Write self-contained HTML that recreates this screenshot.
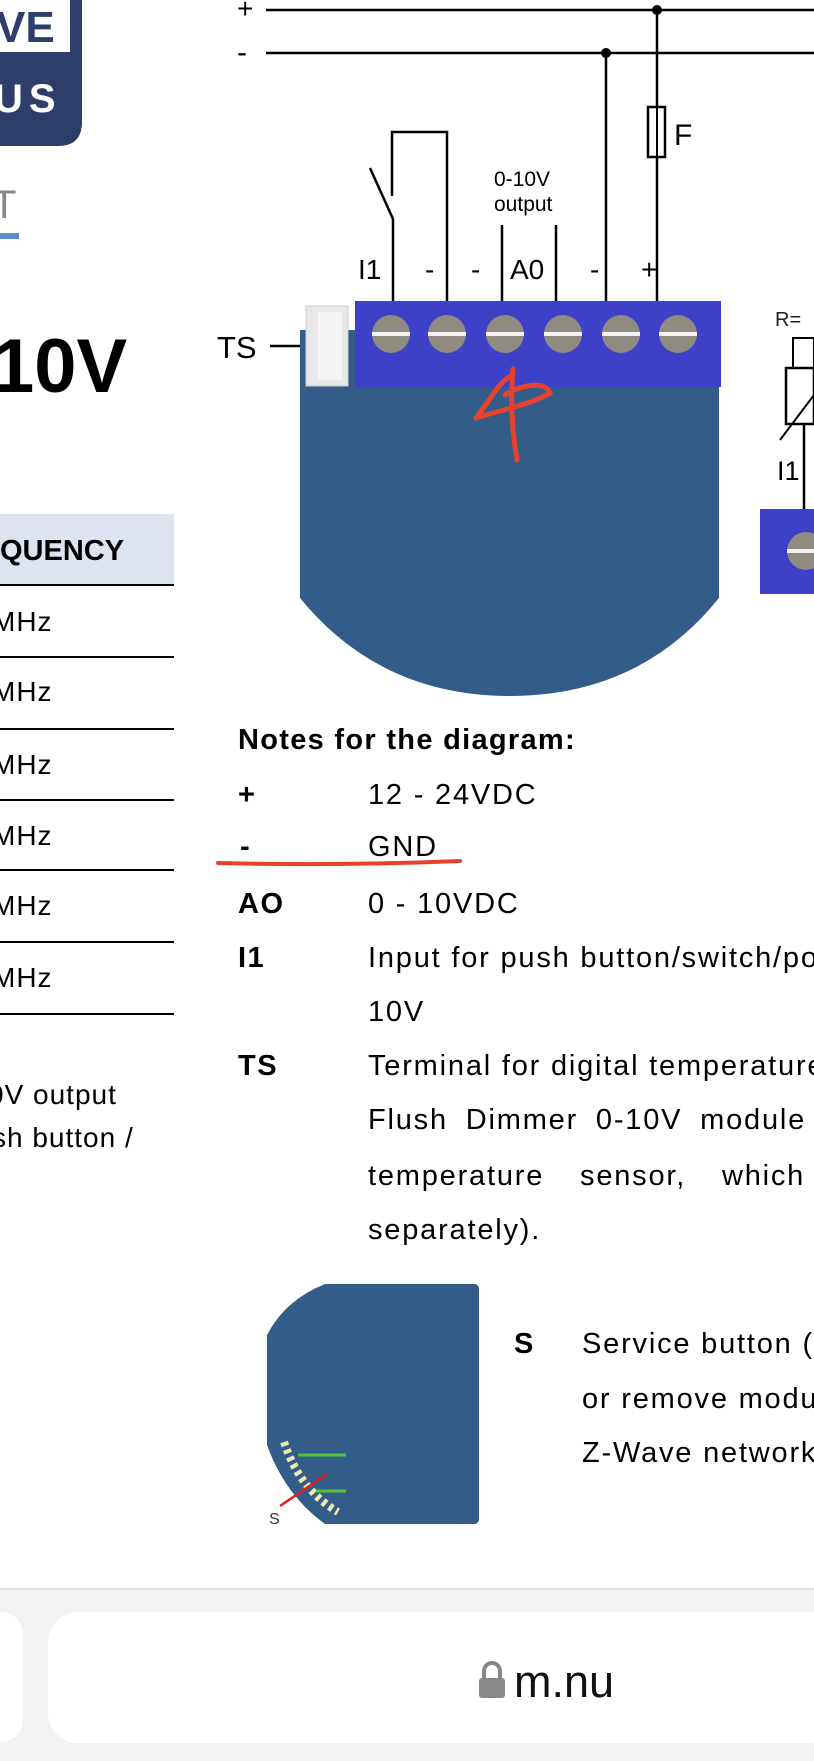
<!DOCTYPE html>
<html><head><meta charset="utf-8"><style>
html,body{margin:0;padding:0;background:#fff}
body{width:814px;height:1761px;overflow:hidden;position:relative;font-family:"Liberation Sans",sans-serif}
svg{position:absolute;left:0;top:0}
</style></head><body>
<svg width="814" height="1761" viewBox="0 0 814 1761" font-family="Liberation Sans, sans-serif">
<!-- logo -->
<path d="M0 0 H82 V122 Q82 146 58 146 H0 Z" fill="#2d3e6b"/>
<rect x="0" y="0" width="70" height="52" fill="#fff"/>
<text x="-4" y="42" font-size="44" font-weight="bold" fill="#2d3e6b">VE</text>
<text x="-6" y="112" font-size="40" font-weight="bold" fill="#fff" letter-spacing="6">US</text>
<text x="-8" y="218" font-size="40" fill="#888">T</text>
<rect x="0" y="233" width="19" height="6" fill="#5b8bd8"/>
<text x="-8" y="392" font-size="76" font-weight="bold" fill="#000">10V</text>
<!-- table -->
<rect x="0" y="514" width="174" height="70" fill="#dde4ef"/>
<text x="0" y="560" font-size="29" font-weight="bold">QUENCY</text>
<g stroke="#000" stroke-width="2">
<line x1="0" y1="585" x2="174" y2="585"/><line x1="0" y1="657" x2="174" y2="657"/>
<line x1="0" y1="729" x2="174" y2="729"/><line x1="0" y1="800" x2="174" y2="800"/>
<line x1="0" y1="870" x2="174" y2="870"/><line x1="0" y1="942" x2="174" y2="942"/>
<line x1="0" y1="1014" x2="174" y2="1014"/></g>
<g font-size="28" letter-spacing="1"><text x="-8" y="631">MHz</text><text x="-8" y="701">MHz</text><text x="-8" y="774">MHz</text>
<text x="-8" y="845">MHz</text><text x="-8" y="915">MHz</text><text x="-8" y="987">MHz</text>
<text x="-12" y="1104">0V output</text><text x="-8" y="1147">sh button /</text></g>
<!-- diagram wires -->
<g stroke="#000" stroke-width="2.5" fill="none">
<line x1="266" y1="10" x2="814" y2="10"/><line x1="266" y1="53" x2="814" y2="53"/>
<line x1="657" y1="10" x2="657" y2="301"/><line x1="606" y1="53" x2="606" y2="301"/>
<polyline points="392,196 392,132 447,132 447,301"/>
<line x1="370" y1="168" x2="393" y2="219"/><line x1="393" y1="219" x2="393" y2="301"/>
<line x1="502" y1="225" x2="502" y2="301"/><line x1="556" y1="225" x2="556" y2="301"/>
<line x1="270" y1="346" x2="312" y2="346"/>
</g>
<rect x="648" y="107" width="17" height="50" fill="#fff" stroke="#000" stroke-width="2.5"/>
<line x1="657" y1="107" x2="657" y2="157" stroke="#000" stroke-width="2"/>
<circle cx="657" cy="10" r="5"/><circle cx="606" cy="53" r="5"/>
<text x="237" y="18" font-size="28">+</text><text x="237" y="62" font-size="30">-</text>
<text x="674" y="145" font-size="30">F</text>
<g font-size="28"><text x="358" y="279">I1</text><text x="425" y="279">-</text><text x="471" y="279">-</text>
<text x="510" y="279">A0</text><text x="590" y="279">-</text><text x="641" y="279">+</text></g>
<text x="494" y="186" font-size="21">0-10V</text><text x="494" y="211" font-size="21">output</text>
<!-- module -->
<path d="M300 330 H712 L719 340 V598 Q640 696 510 696 Q380 696 300 598 Z" fill="#335d88"/>
<rect x="355" y="301" width="366" height="86" fill="#3c41c8"/>
<rect x="306" y="306" width="42" height="80" fill="#e8e8e8" stroke="#ccc"/>
<rect x="318" y="312" width="24" height="68" fill="#f4f4f4"/>
<g fill="#8f8b80">
<circle cx="391" cy="334" r="19"/><circle cx="447" cy="334" r="19"/><circle cx="505" cy="334" r="19"/>
<circle cx="563" cy="334" r="19"/><circle cx="621" cy="334" r="19"/><circle cx="678" cy="334" r="19"/></g>
<g stroke="#f2f2f2" stroke-width="4">
<line x1="372" y1="334" x2="410" y2="334"/><line x1="428" y1="334" x2="466" y2="334"/><line x1="486" y1="334" x2="524" y2="334"/>
<line x1="544" y1="334" x2="582" y2="334"/><line x1="602" y1="334" x2="640" y2="334"/><line x1="659" y1="334" x2="697" y2="334"/></g>
<text x="217" y="358" font-size="31">TS</text>
<!-- red marks -->
<path d="M513 369 C510 400 512 430 517 460 M476 418 C490 400 500 380 513 375 M476 418 C500 410 530 405 550 393 C545 380 520 385 505 395" stroke="#e8402e" stroke-width="5" fill="none" stroke-linecap="round"/>
<!-- right partial -->
<text x="775" y="326" font-size="20" fill="#222">R=</text>
<rect x="793" y="338" width="21" height="30" fill="none" stroke="#000" stroke-width="2"/>
<rect x="786" y="368" width="28" height="56" fill="none" stroke="#000" stroke-width="2.5"/>
<line x1="780" y1="440" x2="814" y2="395" stroke="#000" stroke-width="2"/>
<line x1="804" y1="424" x2="804" y2="509" stroke="#000" stroke-width="2.5"/>
<text x="777" y="480" font-size="27">I1</text>
<rect x="760" y="509" width="60" height="85" fill="#3c41c8"/>
<circle cx="806" cy="551" r="19" fill="#8f8b80"/><line x1="787" y1="551" x2="814" y2="551" stroke="#f2f2f2" stroke-width="4"/>
<!-- notes -->
<text x="238" y="749" font-size="29" font-weight="bold" letter-spacing="1.3">Notes for the diagram:</text>
<g font-size="29" font-weight="bold" letter-spacing="1.5"><text x="238" y="804">+</text><text x="240" y="856">-</text>
<text x="238" y="913">AO</text><text x="238" y="967">I1</text><text x="238" y="1075">TS</text></g>
<g font-size="29" letter-spacing="1.8"><text x="368" y="804">12 - 24VDC</text><text x="368" y="856">GND</text>
<text x="368" y="913">0 - 10VDC</text><text x="368" y="967">Input for push button/switch/po</text>
<text x="368" y="1021">10V</text><text x="368" y="1075">Terminal for digital temperature</text>
<text x="368" y="1129" word-spacing="8">Flush Dimmer 0-10V module c</text>
<text x="368" y="1185" word-spacing="26">temperature sensor, which m</text>
<text x="368" y="1239">separately).</text></g>
<path d="M218 863 Q340 866 460 861" stroke="#e8402e" stroke-width="4" fill="none" stroke-linecap="round"/>
<!-- small module -->
<path d="M325 1284 H474 Q479 1284 479 1290 V1518 Q479 1524 474 1524 H325 Q285 1495 267 1445 V1335 Q285 1300 325 1284 Z" fill="#335d88"/>
<path d="M284 1442 Q300 1490 338 1512" stroke="#eee9b0" stroke-width="8" fill="none" stroke-dasharray="4 4"/>
<line x1="298" y1="1455" x2="346" y2="1455" stroke="#4fc23a" stroke-width="3"/>
<line x1="316" y1="1491" x2="346" y2="1491" stroke="#4fc23a" stroke-width="3"/>
<line x1="280" y1="1506" x2="327" y2="1474" stroke="#e02020" stroke-width="2.5"/>
<text x="269" y="1524" font-size="16" fill="#333">S</text>
<text x="514" y="1353" font-size="29" font-weight="bold">S</text>
<g font-size="29" letter-spacing="1.8"><text x="582" y="1353">Service button (</text><text x="582" y="1408">or remove modu</text><text x="582" y="1462">Z-Wave network</text></g>
<!-- bottom bar -->
<rect x="0" y="1589" width="814" height="172" fill="#f2f2f2"/>
<line x1="0" y1="1589" x2="814" y2="1589" stroke="#ccc"/>
<rect x="-30" y="1612" width="53" height="130" rx="22" fill="#fff"/>
<rect x="48" y="1612" width="800" height="131" rx="30" fill="#fff"/>
<rect x="479" y="1678" width="26" height="20" rx="3" fill="#888"/>
<path d="M484 1679 V1671 A8 8 0 0 1 500 1671 V1679" stroke="#888" stroke-width="4" fill="none"/>
<text x="514" y="1697" font-size="45" fill="#111">m.nu</text>
</svg>
</body></html>
